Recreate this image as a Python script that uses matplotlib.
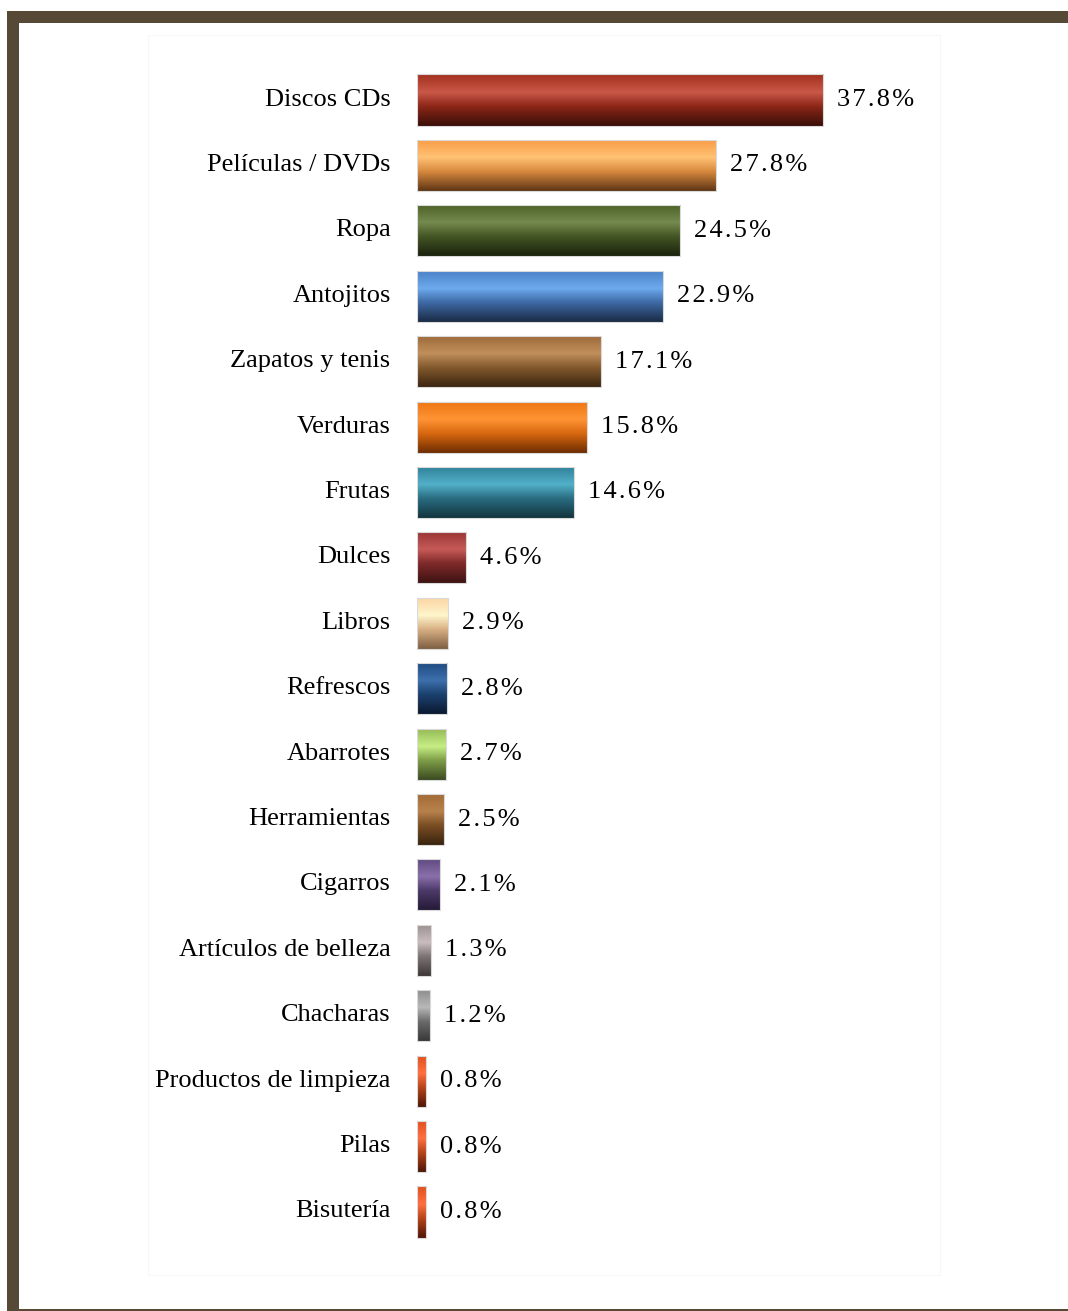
import numpy as np
import matplotlib
matplotlib.use('Agg')
import matplotlib.pyplot as plt
from matplotlib.colors import LinearSegmentedColormap
from matplotlib.patches import Rectangle
from matplotlib.transforms import ScaledTranslation

plt.rcParams['font.family'] = ['Liberation Serif', 'DejaVu Serif']

categorias = ['Discos CDs', 'Películas / DVDs', 'Ropa', 'Antojitos', 'Zapatos y tenis',
              'Verduras', 'Frutas', 'Dulces', 'Libros', 'Refrescos', 'Abarrotes',
              'Herramientas', 'Cigarros', 'Artículos de belleza', 'Chacharas',
              'Productos de limpieza', 'Pilas', 'Bisutería']
valores = [37.8, 27.8, 24.5, 22.9, 17.1, 15.8, 14.6, 4.6, 2.9, 2.8, 2.7,
           2.5, 2.1, 1.3, 1.2, 0.8, 0.8, 0.8]

# (top, highlight, middle, bottom) per bar
colores = [
    ('#a3301f', '#c95848', '#8c2618', '#3a0f08'),
    ('#f99b45', '#ffc274', '#d88a3e', '#5e3516'),
    ('#4d6127', '#758a4e', '#445624', '#1a220d'),
    ('#4a80c6', '#6eaaee', '#3e6aa6', '#1a2b45'),
    ('#9c6a38', '#c08f5c', '#845a2e', '#3a250f'),
    ('#ee7512', '#ff9434', '#d86810', '#6e2d02'),
    ('#2f8098', '#52b0c8', '#2a6d82', '#12343d'),
    ('#963533', '#c65a58', '#7e2a29', '#3e1212'),
    ('#fbd3a2', '#fff6cc', '#d8b084', '#7e5f42'),
    ('#1f4a80', '#3d70ad', '#1c416f', '#0b1a30'),
    ('#93b955', '#c6ee84', '#7f9e48', '#3a4a22'),
    ('#a26a36', '#b8824c', '#7a4e24', '#3a240e'),
    ('#5e4880', '#8a70aa', '#4d3a6a', '#251a36'),
    ('#9a8f8f', '#cabdbd', '#7e7474', '#3e3838'),
    ('#8c8c8c', '#b8b8b8', '#6c6c6c', '#383838'),
    ('#e0501c', '#ff7040', '#b8441a', '#4e1606'),
    ('#e0501c', '#ff7040', '#b8441a', '#4e1606'),
    ('#e0501c', '#ff7040', '#b8441a', '#4e1606'),
]

W, H = 1068, 1311
fig = plt.figure(figsize=(W / 100, H / 100), dpi=100)
fig.patch.set_facecolor('white')

# marco
marco = '#564a36'
fig.patches.append(Rectangle((7 / W, 0), 12 / W, (H - 11) / H, transform=fig.transFigure,
                             facecolor=marco, edgecolor='none', zorder=5))
fig.patches.append(Rectangle((7 / W, 1 - 23 / H), (W - 7) / W, 12 / H, transform=fig.transFigure,
                             facecolor=marco, edgecolor='none', zorder=5))
fig.patches.append(Rectangle((19 / W, 0.3 / H), (W - 19) / W, 2 / H, transform=fig.transFigure,
                             facecolor=marco, edgecolor='none', zorder=5))
# area del grafico (muy tenue)
fig.patches.append(Rectangle((148 / W, 1 - 1275 / H), (940 - 148) / W, (1275 - 35) / H,
                             transform=fig.transFigure, facecolor='none',
                             edgecolor='#f7f7f7', linewidth=0.8, zorder=1))

n = len(categorias)
top_px, bot_px = 100 - 32.7, 1212 + 32.7
ax = fig.add_axes([417 / W, 1 - bot_px / H, 623 / W, (bot_px - top_px) / H])
ax.set_facecolor('none')

y = np.arange(n)
alto = 0.78
barras = ax.barh(y, valores, height=alto, facecolor='none', edgecolor='#d9d9d9', linewidth=0.8)

grad = np.linspace(0, 1, 200).reshape(-1, 1)
for i, (b, c) in enumerate(zip(barras, colores)):
    cmap = LinearSegmentedColormap.from_list('g%d' % i, [(0, c[0]), (0.35, c[1]), (0.62, c[2]), (1, c[3])])
    x0, y0 = b.get_x(), b.get_y()
    im = ax.imshow(grad, cmap=cmap, aspect='auto', origin='upper',
                   extent=(x0, x0 + b.get_width(), y0 + b.get_height(), y0), zorder=2)
    im.set_clip_path(b)
    b.set_zorder(3)

for i, v in enumerate(valores):
    txt = '\u200a'.join('%.1f%%' % v)
    ax.text(v + 1.3, i, txt, va='center', ha='left', fontsize=19, color='black')

ax.set_xlim(0, 58)
ax.set_ylim(n - 0.5, -0.5)
ax.set_yticks(y)
ax.set_yticklabels(categorias, fontsize=19)
ax.tick_params(axis='y', length=0, pad=19)
subir = ScaledTranslation(0, 3 / 100, fig.dpi_scale_trans)
for lab in ax.get_yticklabels():
    lab.set_transform(lab.get_transform() + subir)
ax.set_xticks([])
for s in ax.spines.values():
    s.set_visible(False)

fig.savefig('out.png', dpi=100)
